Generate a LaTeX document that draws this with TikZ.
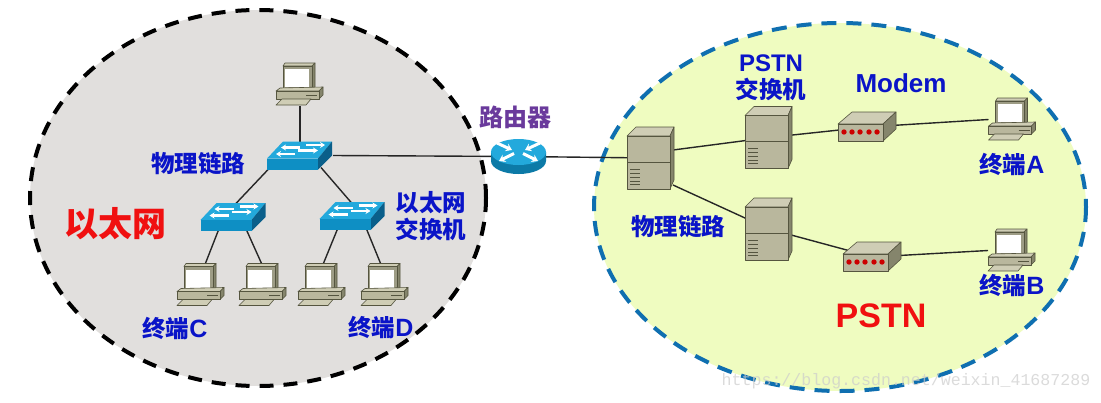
\documentclass[tikz,border=0pt]{standalone}
\usepackage{fontspec}
\newfontfamily\cjk{Noto Sans CJK SC}
\newfontfamily\lat{Liberation Sans}
\newfontfamily\wm{Liberation Mono}
\usetikzlibrary{arrows.meta}
\definecolor{labelblue}{HTML}{0A14C8}
\definecolor{labelred}{HTML}{F01010}
\definecolor{labelpurple}{HTML}{6A3A9C}
\definecolor{netgray}{HTML}{E1DFDD}
\definecolor{netgreen}{HTML}{EFFCC0}
\definecolor{dashblue}{HTML}{0F6FB0}
\definecolor{boxfront}{HTML}{B9B79D}
\definecolor{boxtop}{HTML}{CFCDB5}
\definecolor{boxside}{HTML}{85856C}
\definecolor{boxline}{HTML}{55553F}
\definecolor{swfront}{HTML}{0E8FC4}
\definecolor{swtop}{HTML}{23A9DC}
\definecolor{swside}{HTML}{0A5F8A}
\tikzset{
  x=1pt,y=-1pt,
  pcbox/.style={inner sep=0pt,outer sep=0pt,minimum width=48pt,minimum height=43pt},
  swbox/.style={inner sep=0pt,outer sep=0pt,minimum width=66pt,minimum height=28pt},
  rtbox/.style={inner sep=0pt,outer sep=0pt,minimum width=55pt,minimum height=35pt},
  srvbox/.style={inner sep=0pt,outer sep=0pt,minimum width=48pt,minimum height=62pt},
  mdbox/.style={inner sep=0pt,outer sep=0pt,minimum width=59pt,minimum height=30pt},
  link/.style={draw=black!85,line width=1.4pt},
  bluetext/.style={text=labelblue,font=\cjk\bfseries\fontsize{23.5}{27}\selectfont,align=center,inner sep=0pt},
  facet/.style={draw=boxline,line width=0.6pt,line join=round},
  swarrow/.style={draw=white,line width=2.1pt,-{Stealth[length=5pt,width=6pt]}},
  rtarrow/.style={draw=white,line width=3pt,-{Stealth[length=6pt,width=8pt]}},
  pcicon/.pic={
    \path[facet,fill=boxtop] (7,3)--(9,0)--(39,0)--(36,3)--cycle;
    \path[facet,fill=boxside] (36,3)--(39,0)--(39,24)--(36,27)--cycle;
    \path[facet,fill=boxfront!85!black] (7,3) rectangle (36,27);
    \path[fill=white] (9,6) rectangle (33,24);
    \path[facet,fill=boxtop] (0,28)--(4,25)--(47,24)--(43,28)--cycle;
    \path[facet,fill=boxside] (43,28)--(47,24)--(47,32)--(43,36)--cycle;
    \path[facet,fill=boxfront] (0,28) rectangle (43,36);
    \draw[boxline,line width=0.8pt] (30,32)--(41,32);
    \path[facet,fill=boxtop] (0,42)--(6,36)--(35,36)--(30,42)--cycle;
  },
  swicon/.pic={
    \path[fill=swtop] (0,17)--(16,0)--(65,0)--(51,17)--cycle;
    \path[fill=swside] (51,17)--(65,0)--(65,14)--(51,28)--cycle;
    \path[fill=swfront] (0,17) rectangle (51,28);
    \draw[swarrow] (33,6)--(14,6);
    \draw[swarrow] (39,3.5)--(58,3.5);
    \draw[swarrow] (28,12.5)--(9,12.5);
    \draw[swarrow] (31,9)--(51,9);
  },
  rticon/.pic={
    \path[fill=swfront!85!black] (0,13)--(0,22) arc[start angle=180,end angle=360,x radius=27.5,y radius=-13]--(55,13)--cycle;
    \path[fill=swtop] (27.5,13) ellipse[x radius=27.5,y radius=13];
    \draw[rtarrow] (6,4)--(21,11);
    \draw[rtarrow] (49,4)--(34,11);
    \draw[rtarrow] (23,14.5)--(8,22);
    \draw[rtarrow] (32,14.5)--(47,22);
  },
  srvicon/.pic={
    \path[facet,fill=boxtop] (0,9)--(9,0)--(47,0)--(43,9)--cycle;
    \path[facet,fill=boxside] (43,9)--(47,0)--(47,53)--(43,62)--cycle;
    \path[facet,fill=boxfront] (0,9) rectangle (43,62);
    \draw[boxline,line width=0.6pt] (0,35)--(43,35);
    \draw[boxline,line width=0.6pt] (3,42)--(13,42) (3,46)--(13,46) (3,50)--(13,50) (3,54)--(13,54) (3,57)--(13,57);
  },
  mdicon/.pic={
    \path[facet,fill=boxtop] (0,12)--(14,0)--(58,0)--(45,12)--cycle;
    \path[facet,fill=boxside] (45,12)--(58,0)--(58,17)--(45,29)--cycle;
    \path[facet,fill=boxfront] (0,12) rectangle (45,29);
    \foreach \lx in {6,14,22,31,39} \fill[red!80!black] (\lx,20) circle[radius=2.7];
  }
}
\begin{document}
\begin{tikzpicture}
\useasboundingbox (0,0) rectangle (1101,402);
\path[fill=white] (0,0) rectangle (1101,402);
% networks
\path[fill=netgray] (258,198) ellipse[x radius=228,y radius=188];
\draw[black,line width=4pt,dash pattern=on 14pt off 10pt] (258,198) ellipse[x radius=228,y radius=188];
\path[fill=netgreen] (840,207) ellipse[x radius=246,y radius=184];
\draw[dashblue,line width=4pt,dash pattern=on 15pt off 10pt] (840,207) ellipse[x radius=246,y radius=184];
% icon nodes
\node[pcbox] (pc0) at (300,84.5) {};
\node[swbox] (sw0) at (300,155.5) {};
\node[swbox] (swl) at (233.5,217) {};
\node[swbox] (swr) at (352.5,216) {};
\node[pcbox] (pc1) at (201,285) {};
\node[pcbox] (pc2) at (263,285) {};
\node[pcbox] (pc3) at (322,285) {};
\node[pcbox] (pc4) at (385,285) {};
\node[rtbox] (rt) at (518.5,156.5) {};
\node[srvbox] (s1) at (651,158) {};
\node[srvbox] (s2) at (769,137.5) {};
\node[srvbox] (s3) at (769,229) {};
\node[mdbox] (m1) at (867.5,127) {};
\node[mdbox] (m2) at (872.5,257) {};
\node[pcbox] (pca) at (1012.5,119.5) {};
\node[pcbox] (pcb) at (1012,250.5) {};
% connectors
\draw[link] (pc0.south) -- (sw0.north);
\draw[link] (sw0.east) -- (rt.center);
\draw[link] (rt.center) -- (s1.center);
\draw[link] ([shift={(3,-2)}]sw0.south west) -- ([shift={(34,2)}]swl.north west);
\draw[link] ([shift={(-12,-2)}]sw0.south east) -- ([shift={(33,2)}]swr.north west);
\draw[link] ([shift={(18,-1)}]swl.south west) -- ([shift={(4,1)}]pc1.north);
\draw[link] ([shift={(46,-1)}]swl.south west) -- ([shift={(-1,1)}]pc2.north);
\draw[link] ([shift={(18,-1)}]swr.south west) -- ([shift={(1,1)}]pc3.north);
\draw[link] ([shift={(47,-1)}]swr.south west) -- ([shift={(-4,1)}]pc4.north);
\draw[link] ([shift={(-2,-8)}]s1.east) -- (s2.center);
\draw[link] ([shift={(-2,27)}]s1.east) -- (s3.center);
\draw[link] (s2.center) -- (m1.center);
\draw[link] (s3.center) -- (m2.center);
\draw[link] (m1.center) -- (pca.west);
\draw[link] (m2.center) -- (pcb.west);
% icons
\foreach \n in {pc0,pc1,pc2,pc3,pc4,pca,pcb} \pic at (\n.north west) {pcicon};
\foreach \n in {sw0,swl,swr} \pic at (\n.north west) {swicon};
\pic at (rt.north west) {rticon};
\foreach \n in {s1,s2,s3} \pic at (\n.north west) {srvicon};
\foreach \n in {m1,m2} \pic at (\n.north west) {mdicon};
% labels
\node[bluetext] (t1) at (198,164) {物理链路};
\node[bluetext] (t2) at (431,216) {以太网\\交换机};
\node[bluetext] (t3) at (175,329) {终端{\lat\fontsize{25}{27}\selectfont C}};
\node[bluetext] (t4) at (381,328) {终端{\lat\fontsize{25}{27}\selectfont D}};
\node[bluetext] (t5) at (678,227) {物理链路};
\node[bluetext] (t6) at (771,78) {{\lat\fontsize{24}{27}\selectfont PSTN}\\交换机};
\node[bluetext,font=\lat\bfseries\fontsize{26}{27}\selectfont] (t7) at (901,83) {Modem};
\node[bluetext] (t8) at (1012,165) {终端{\lat\fontsize{25}{27}\selectfont A}};
\node[bluetext] (t9) at (1012,286) {终端{\lat\fontsize{25}{27}\selectfont B}};
\node[text=labelpurple,font=\cjk\bfseries\fontsize{24}{27}\selectfont,inner sep=0pt] (t10) at (515,117) {路由器};
\node[text=labelred,font=\cjk\bfseries\fontsize{34}{36}\selectfont,inner sep=0pt] (t11) at (115,224) {以太网};
\node[text=labelred,font=\lat\bfseries\fontsize{34}{36}\selectfont,inner sep=0pt] (t12) at (881,316) {PSTN};
\node[text=black!20,font=\wm\fontsize{16.6}{18}\selectfont,inner sep=0pt,opacity=0.7] (wm) at (906,381) {https://blog.csdn.net/weixin\_41687289};
\end{tikzpicture}
\end{document}
